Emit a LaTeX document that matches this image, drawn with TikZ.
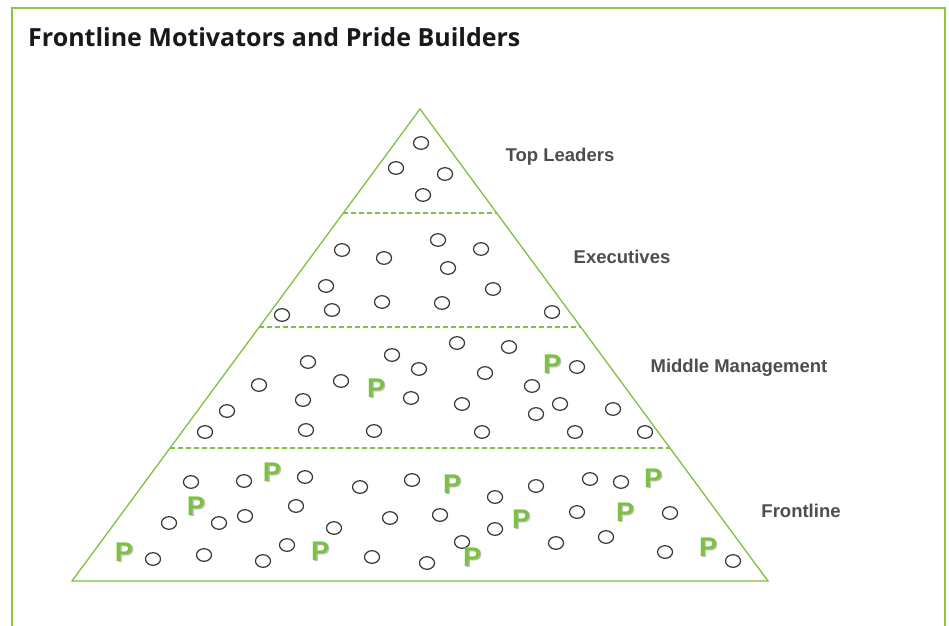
\documentclass[tikz,border=0pt]{standalone}
\usepackage{fontspec}
\setmainfont{Liberation Sans}
\newfontfamily\titlefont{Open Sans}
\usetikzlibrary{calc}
\definecolor{frameGreen}{HTML}{8CC63F}
\definecolor{pyrGreen}{HTML}{7DC142}
\definecolor{labGray}{HTML}{4D4D4D}
\definecolor{dotGray}{HTML}{333333}
\tikzset{
  tier/.style={font=\bfseries\fontsize{18.5}{22}\selectfont, text=labGray, inner sep=0pt},
  member/.style={draw=dotGray, line width=1.2pt},
  pride/.style={font=\bfseries\fontsize{27}{30}\selectfont, text=pyrGreen, inner sep=0pt},
  prideshade/.style={font=\bfseries\fontsize{27}{30}\selectfont, text=black!25, inner sep=0pt},
  divider/.style={draw=pyrGreen, line width=2.2pt, dash pattern=on 5pt off 3pt},
}

\begin{document}
\begin{tikzpicture}[x=1pt, y=-1pt]

  \useasboundingbox (0,0) rectangle (949,625);

  %% frame and title
  \draw[frameGreen, line width=1.2pt] (12,640) -- (12,8) -- (945,8) -- (945,640);
  \node[anchor=west, inner sep=0pt, text=black!90, font=\titlefont\bfseries\fontsize{25}{28}\selectfont] (title) at (28,37) {Frontline Motivators and Pride Builders};

  %% pyramid
  \coordinate (apex) at (420,109);
  \coordinate (bl) at (72,581);
  \coordinate (br) at (768,581);
  \draw[pyrGreen, line width=1.3pt] (apex) -- (br) -- (bl) -- cycle;
  \foreach \t in {0.2203, 0.4619, 0.7182}
    \draw[divider] ($(apex)!\t!(bl)$) -- ($(apex)!\t!(br)$);

  %% tier labels
  \node[tier] (top) at (560,157) {Top Leaders};
  \node[tier] (exec) at (622,257) {Executives};
  \node[tier] (middle) at (739,368) {Middle Management};
  \node[tier] (front) at (801,511) {Frontline};

  %% people
  \foreach \cx/\cy in {421/143, 396/168, 445/174, 423/195, % top
      342/250, 384/258, 438/240, 481/249, 448/268, 326/286, 493/289, 332/310,
      382/302, 442/303, 282/315, 552/312, % executives
      308/362, 392/355, 457/343, 509/347, 419/369, 485/373, 577/367, 259/385,
      341/381, 532/386, 303/400, 411/398, 462/404, 560/404, 536/414, 613/409,
      227/411, 205/432, 306/430, 374/431, 482/432, 575/432, 645/432, % middle
      191/482, 244/481, 305/477, 360/487, 412/480, 296/506, 169/523, 219/523,
      245/516, 334/528, 390/518, 287/545, 153/559, 204/555, 263/561, 372/557,
      427/563, 495/497, 536/486, 590/479, 621/482, 440/515, 495/529, 577/512,
      670/513, 462/542, 556/543, 606/537, 665/552, 733/561} % frontline
    \draw[member] (\cx,\cy) ellipse [x radius=7.5, y radius=6.3];

  %% pride builders
  \foreach \px/\py [count=\i] in {376/388, 552/364, 272/472, 196/506, 124/552,
      320/551, 452/484, 521/519, 472/557, 625/512, 653/478, 708/547} {
    \node[prideshade] at (\px+1.3,\py+1.3) {P};
    \node[pride] (p\i) at (\px,\py) {P};
  }

\end{tikzpicture}
\end{document}
